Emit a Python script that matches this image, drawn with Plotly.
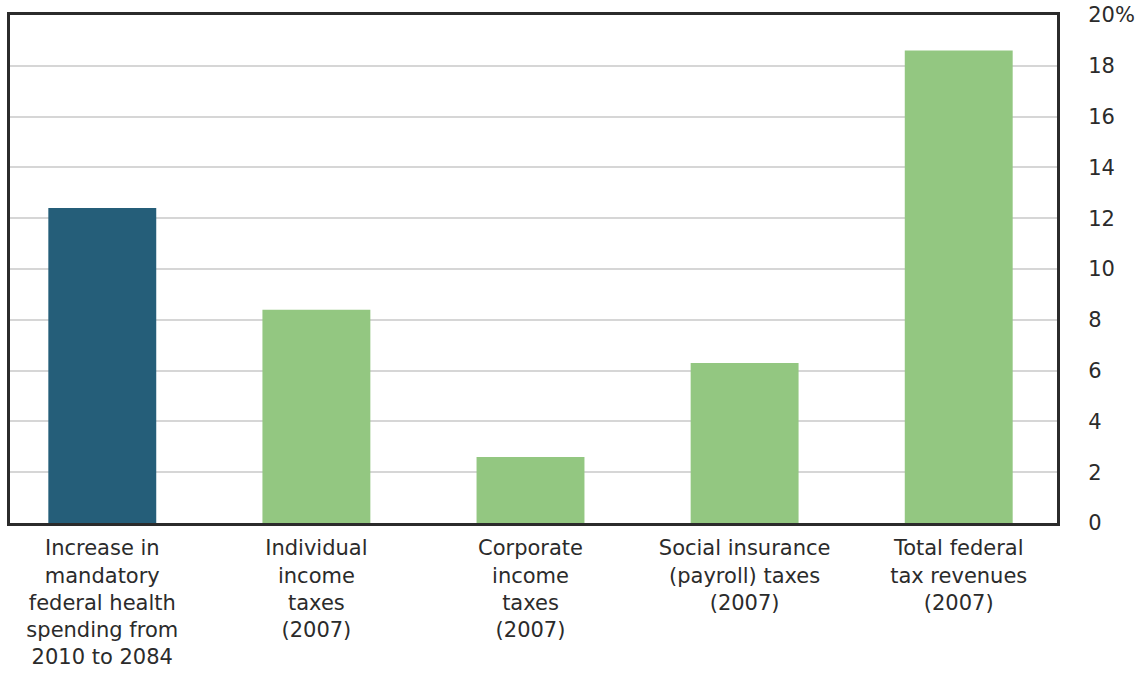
import plotly.graph_objects as go

# Categories and values (percent of GDP)
categories = [
    "Increase in<br>mandatory<br>federal health<br>spending from<br>2010 to 2084",
    "Individual<br>income<br>taxes<br>(2007)",
    "Corporate<br>income<br>taxes<br>(2007)",
    "Social insurance<br>(payroll) taxes<br>(2007)",
    "Total federal<br>tax revenues<br>(2007)",
]
values = [12.4, 8.4, 2.6, 6.3, 18.6]
bar_colors = ["#255E79", "#93C781", "#93C781", "#93C781", "#93C781"]

y_tickvals = [0, 2, 4, 6, 8, 10, 12, 14, 16, 18, 20]
y_ticktext = ["0", "2", "4", "6", "8", "10", "12", "14", "16", "18", "20%"]

FONT = "'DejaVu Sans', sans-serif"
TEXT_COLOR = "#2b2b2b"

fig = go.Figure()
fig.add_trace(
    go.Bar(
        x=list(range(len(categories))),
        y=values,
        marker=dict(color=bar_colors, line=dict(width=0)),
        width=0.504,
        hoverinfo="skip",
    )
)

fig.update_layout(
    width=1138,
    height=673,
    margin=dict(l=10, r=81, t=15, b=150),
    paper_bgcolor="white",
    plot_bgcolor="white",
    showlegend=False,
    font=dict(family=FONT, size=21, color=TEXT_COLOR),
    xaxis=dict(
        automargin=False,
        range=[-0.431, 4.459],
        tickmode="array",
        tickvals=list(range(len(categories))),
        ticktext=categories,
        showgrid=False,
        zeroline=False,
        showline=True,
        mirror=True,
        linewidth=3,
        linecolor="#2b2b2b",
        ticks="outside",
        ticklen=4,
        tickcolor="rgba(0,0,0,0)",
        tickfont=dict(family=FONT, size=21, color=TEXT_COLOR),
    ),
    yaxis=dict(
        automargin=False,
        side="right",
        range=[0, 20],
        tickmode="array",
        tickvals=y_tickvals,
        ticktext=y_ticktext,
        showgrid=True,
        gridcolor="#d6d6d6",
        gridwidth=2,
        zeroline=False,
        showline=True,
        mirror=True,
        linewidth=3,
        linecolor="#2b2b2b",
        ticks="outside",
        ticklen=24,
        tickcolor="rgba(0,0,0,0)",
        tickfont=dict(family=FONT, size=21, color=TEXT_COLOR),
    ),
)

fig.write_html("out.html")
